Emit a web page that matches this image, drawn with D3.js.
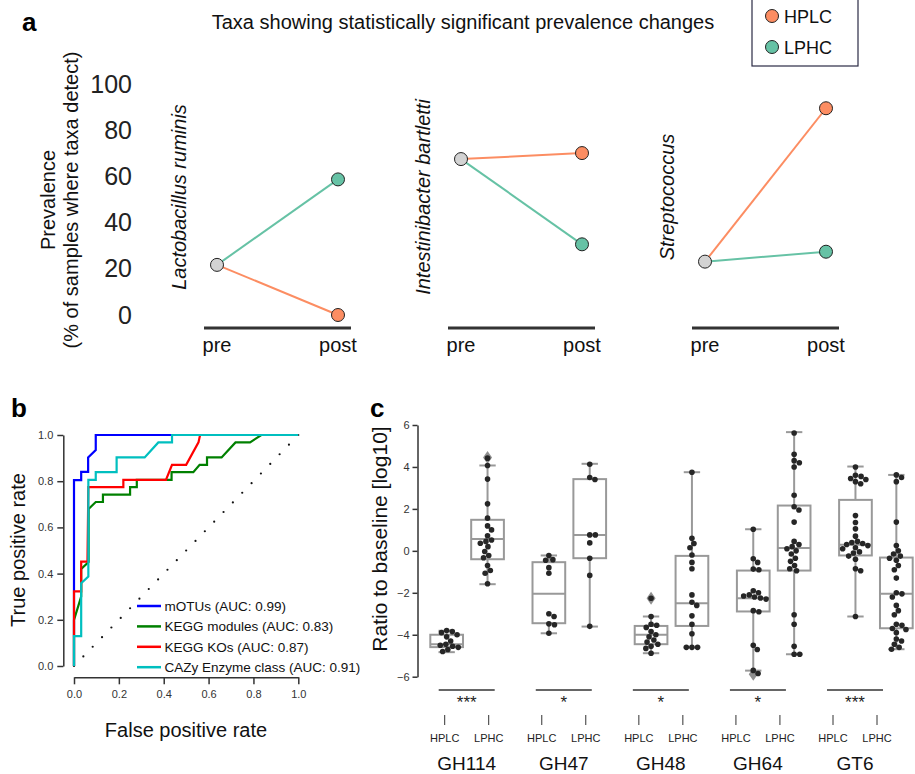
<!DOCTYPE html>
<html>
<head>
<meta charset="utf-8">
<script src="https://cdn.jsdelivr.net/npm/d3@7"></script>
<style>
  body { margin: 0; background: #fff; }
  svg { font-family: "Liberation Sans", Arial, Helvetica, sans-serif; }
</style>
</head>
<body>
<svg id="fig" width="915" height="774"></svg>
<script>
// ---------- data: panel a (prevalence, %) ----------
const taxa = ["Lactobacillus ruminis", "Intestinibacter bartletti", "Streptococcus"];
const stages = ["pre", "post"];
const prevPre = [21.7, 67.5, 23.1];
const prevPostHPLC = [0, 70.1, 89.5];
const prevPostLPHC = [58.7, 30.6, 27.4];
const prevTicks = [0, 20, 40, 60, 80, 100];

// ---------- data: panel b (ROC curves) ----------
const rocNames = ["mOTUs (AUC: 0.99)", "KEGG modules (AUC: 0.83)", "KEGG KOs (AUC: 0.87)", "CAZy Enzyme class (AUC: 0.91)"];
const fprMotus = [0, 0, 0.032, 0.032, 0.063, 0.063, 0.097, 0.097, 1];
const tprMotus = [0, 0.805, 0.805, 0.84, 0.84, 0.903, 0.935, 1, 1];
const fprModules = [0, 0, 0.032, 0.032, 0.065, 0.065, 0.097, 0.129, 0.129, 0.25, 0.25, 0.28, 0.28, 0.435, 0.435, 0.532, 0.56, 0.593, 0.593, 0.658, 0.72, 0.785, 0.835, 1];
const tprModules = [0, 0.2, 0.3, 0.42, 0.45, 0.68, 0.71, 0.71, 0.742, 0.742, 0.774, 0.774, 0.806, 0.806, 0.839, 0.839, 0.871, 0.871, 0.903, 0.903, 0.968, 0.968, 1, 1];
const fprKOs = [0, 0, 0.032, 0.032, 0.06, 0.064, 0.22, 0.22, 0.41, 0.437, 0.5, 0.555, 0.562, 1];
const tprKOs = [0, 0.323, 0.323, 0.452, 0.452, 0.774, 0.774, 0.806, 0.806, 0.871, 0.871, 0.968, 1, 1];
const fprCazy = [0, 0, 0.032, 0.032, 0.064, 0.064, 0.097, 0.097, 0.19, 0.19, 0.315, 0.376, 0.437, 0.437, 1];
const tprCazy = [0, 0.129, 0.129, 0.358, 0.387, 0.806, 0.806, 0.839, 0.839, 0.903, 0.903, 0.968, 0.968, 1, 1];
const rocTicks = [0, 0.2, 0.4, 0.6, 0.8, 1.0];

// ---------- data: panel c (ratio to baseline, log10) ----------
const groups = ["GH114", "GH47", "GH48", "GH64", "GT6"];
const hues = ["HPLC", "LPHC"];
const stars = ["***", "*", "*", "*", "***"];
// [lower whisker, q1, median, q3, upper whisker]
const hplcBox = [[-4.83, -4.59, -4.45, -4.0, -3.81], [-3.93, -3.45, -2.05, -0.54, -0.22], [-4.88, -4.45, -4.0, -3.58, -3.13], [-5.71, -2.89, -2.26, -0.94, 1.03], [-3.13, -0.22, 0.29, 2.43, 4.02]];
const lphcBox = [[-1.59, -0.4, 0.56, 1.48, 4.07], [-3.61, -0.35, 0.76, 3.42, 4.15], [-4.6, -3.58, -2.5, -0.24, 3.75], [-4.93, -0.94, 0.13, 2.16, 5.66], [-4.69, -3.69, -2.05, -0.32, 3.62]];
const hplcOutliers = [[], [], [-2.26], [-5.88], []];
const lphcOutliers = [[4.45], [], [], [], []];
const hplcPoints = [
  [-3.8, -3.85, -3.9, -4.0, -4.1, -4.3, -4.45, -4.5, -4.55, -4.6, -4.7, -4.8],
  [-0.22, -0.42, -0.45, -0.8, -1.07, -3.0, -3.13, -3.48, -3.52, -3.93],
  [-2.26, -3.13, -3.5, -3.55, -3.65, -3.85, -4.0, -4.1, -4.25, -4.35, -4.45, -4.55, -4.65, -4.88],
  [1.03, -0.38, -0.55, -0.87, -0.9, -1.9, -2.0, -2.1, -2.15, -2.2, -2.25, -2.3, -2.85, -2.9, -4.5, -4.7, -5.7, -5.85],
  [4.0, 3.6, 3.55, 3.45, 3.4, 3.3, 3.2, 1.68, 1.35, 1.05, 0.7, 0.45, 0.4, 0.35, 0.3, 0.25, 0.15, 0.1, -0.05, -0.1, -0.25, -0.4, -0.85, -0.95, -3.13]
];
const lphcPoints = [
  [4.42, 4.07, 3.42, 2.24, 1.56, 1.19, 1.0, 0.72, 0.52, 0.45, 0.36, 0.2, -0.03, -0.22, -0.33, -0.7, -0.94, -1.07, -1.57],
  [4.13, 3.5, 3.4, 0.76, 0.76, 0.38, -0.35, -1.17, -3.6],
  [3.75, 0.6, 0.35, 0.15, -0.2, -0.55, -0.85, -2.1, -2.45, -2.6, -3.1, -3.5, -3.95, -4.6, -4.6, -4.6],
  [5.62, 4.6, 4.3, 4.2, 4.0, 2.65, 2.1, 1.95, 1.37, 0.45, 0.3, 0.2, 0.1, 0.0, -0.15, -0.35, -0.5, -0.7, -0.85, -0.95, -3.05, -3.5, -4.55, -4.93, -4.93],
  [3.62, 3.5, 3.3, 1.37, 0.25, 0.0, -0.15, -0.25, -0.35, -0.45, -0.7, -0.9, -1.3, -2.0, -2.05, -2.2, -2.6, -2.85, -3.05, -3.5, -3.55, -3.7, -3.75, -3.9, -4.2, -4.3, -4.45, -4.6, -4.69]
];
const ratioTicks = [-6, -4, -2, 0, 2, 4, 6];

const FONT = "Liberation Sans, Arial, Helvetica, sans-serif";
const orange = "#fc8d62", teal = "#66c2a5", grey = "#d3d3d3";
const svg = d3.select("#fig");

// panel letters
[["a", 22, 31], ["b", 11, 417], ["c", 370, 417]].forEach(([t, x, y]) => {
  svg.append("text").attr("x", x).attr("y", y).attr("font-size", 26)
    .attr("font-weight", "bold").text(t);
});

// ================= panel a =================
const yA = d3.scaleLinear().domain([0, 100]).range([315, 84]);
const panelX = d3.scaleBand().domain(taxa).range([150, 882]);
const stageX = d3.scalePoint().domain(stages).range([67, 188]);

svg.append("text").attr("x", 463).attr("y", 29).attr("text-anchor", "middle")
  .attr("font-size", 20).attr("fill", "#111")
  .text("Taxa showing statistically significant prevalence changes");

const axA = svg.append("g").attr("transform", "translate(135,0)")
  .call(d3.axisLeft(yA).tickValues(prevTicks).tickSize(0).tickPadding(3));
axA.select(".domain").remove();
axA.attr("font-family", FONT).attr("font-size", 25);
axA.selectAll("text").attr("fill", "#222");

const ylabA = svg.append("text").attr("transform", "translate(55,200) rotate(-90)")
  .attr("text-anchor", "middle").attr("font-size", 20).attr("fill", "#111");
ylabA.append("tspan").attr("x", 0).attr("y", 0).text("Prevalence");
ylabA.append("tspan").attr("x", 0).attr("y", 23).text("(% of samples where taxa detect)");

taxa.forEach((t, i) => {
  const g = svg.append("g").attr("transform", `translate(${panelX(t)},0)`);
  g.append("line")
    .attr("x1", stageX("pre") - 13).attr("x2", stageX("post") + 13)
    .attr("y1", 328).attr("y2", 328).attr("stroke", "#333").attr("stroke-width", 3);
  stages.forEach(s => {
    g.append("text").attr("x", stageX(s)).attr("y", 352).attr("text-anchor", "middle")
      .attr("font-size", 20).attr("fill", "#111").text(s);
  });
  g.append("text").attr("transform", "translate(36,197) rotate(-90)")
    .attr("text-anchor", "middle").attr("font-size", 20).attr("font-style", "italic")
    .attr("fill", "#111").text(t);

  const x0 = stageX("pre"), x1 = stageX("post");
  g.append("line").attr("x1", x0).attr("y1", yA(prevPre[i]))
    .attr("x2", x1).attr("y2", yA(prevPostHPLC[i])).attr("stroke", orange).attr("stroke-width", 2);
  g.append("line").attr("x1", x0).attr("y1", yA(prevPre[i]))
    .attr("x2", x1).attr("y2", yA(prevPostLPHC[i])).attr("stroke", teal).attr("stroke-width", 2);
  [[x1, prevPostHPLC[i], orange], [x1, prevPostLPHC[i], teal], [x0, prevPre[i], grey]].forEach(([cx, v, c]) => {
    g.append("circle").attr("cx", cx).attr("cy", yA(v)).attr("r", 6.5)
      .attr("fill", c).attr("stroke", "#222").attr("stroke-width", 1);
  });
});

// legend a
const legA = svg.append("g");
legA.append("rect").attr("x", 752).attr("y", -2).attr("width", 106).attr("height", 68)
  .attr("fill", "#fff").attr("stroke", "#2b2b45").attr("stroke-width", 1.2);
[["HPLC", orange, 16], ["LPHC", teal, 47]].forEach(([lab, c, y]) => {
  legA.append("circle").attr("cx", 772).attr("cy", y).attr("r", 6.5)
    .attr("fill", c).attr("stroke", "#222").attr("stroke-width", 1);
  legA.append("text").attr("x", 784).attr("y", y + 6.5).attr("font-size", 18)
    .attr("fill", "#111").text(lab);
});

// ================= panel b =================
const xB = d3.scaleLinear().domain([0, 1]).range([74, 298.3]);
const yB = d3.scaleLinear().domain([0, 1]).range([666, 435]);

const axBy = svg.append("g").attr("transform", "translate(63.3,0)")
  .call(d3.axisLeft(yB).tickValues(rocTicks).tickFormat(d3.format(".1f")).tickSize(6).tickSizeOuter(0).tickPadding(4));
const axBx = svg.append("g").attr("transform", "translate(0,677.3)")
  .call(d3.axisBottom(xB).tickValues(rocTicks).tickFormat(d3.format(".1f")).tickSize(7).tickSizeOuter(0).tickPadding(6));
[axBy, axBx].forEach(a => {
  a.attr("font-family", FONT).attr("font-size", 11);
  a.selectAll("path,line").attr("stroke", "#333").attr("stroke-width", 1.5);
  a.selectAll("text").attr("fill", "#333");
});

// chance line (dotted diagonal)
svg.append("g").selectAll("circle").data(d3.range(0, 25).map(k => k / 24)).join("circle")
  .attr("cx", d => xB(d)).attr("cy", d => yB(d)).attr("r", 1.1).attr("fill", "#111");

const rocSeries = [
  { name: rocNames[0], fpr: fprMotus, tpr: tprMotus, color: "#0000ff" },
  { name: rocNames[1], fpr: fprModules, tpr: tprModules, color: "#008000" },
  { name: rocNames[2], fpr: fprKOs, tpr: tprKOs, color: "#ff0000" },
  { name: rocNames[3], fpr: fprCazy, tpr: tprCazy, color: "#00bfbf" }
];
const rocLine = d3.line().x(d => xB(d[0])).y(d => yB(d[1]));
rocSeries.forEach(s => {
  svg.append("path").datum(s.fpr.map((f, k) => [f, s.tpr[k]]))
    .attr("d", rocLine).attr("fill", "none").attr("stroke", s.color)
    .attr("stroke-width", 2.2).attr("stroke-linejoin", "miter");
});

rocSeries.forEach((s, k) => {
  const y = 606 + k * 20.4;
  svg.append("line").attr("x1", 137).attr("x2", 161).attr("y1", y).attr("y2", y)
    .attr("stroke", s.color).attr("stroke-width", 2.5);
  svg.append("text").attr("x", 164.5).attr("y", y).attr("dy", "0.35em")
    .attr("font-size", 13.5).attr("fill", "#111").text(s.name);
});

svg.append("text").attr("transform", "translate(25,550) rotate(-90)")
  .attr("text-anchor", "middle").attr("font-size", 20).attr("fill", "#111").text("True positive rate");
svg.append("text").attr("x", 186).attr("y", 737).attr("text-anchor", "middle")
  .attr("font-size", 20).attr("fill", "#111").text("False positive rate");

// ================= panel c =================
const yC = d3.scaleLinear().domain([-6, 6]).range([676.7, 425]);
const xC = d3.scaleBand().domain(groups).range([416, 927]);
const bw = xC.bandwidth();
const hueOff = d3.scalePoint().domain(hues).range([-0.2 * bw, 0.2 * bw]);
const boxW = 0.32 * bw;

const axC = svg.append("g").attr("transform", "translate(417.5,0)")
  .call(d3.axisLeft(yC).tickValues(ratioTicks).tickSize(5).tickSizeOuter(0).tickPadding(3));
axC.attr("font-family", FONT).attr("font-size", 11);
axC.selectAll("path,line").attr("stroke", "#333").attr("stroke-width", 1.5);
axC.selectAll("text").attr("fill", "#333");

svg.append("text").attr("transform", "translate(387,539) rotate(-90)")
  .attr("text-anchor", "middle").attr("font-size", 21).attr("fill", "#111")
  .text("Ratio to baseline [log10]");

function swarm(vals, r) {
  const placed = [];
  vals.map(v => ({ v, y: yC(v) })).sort((a, b) => a.y - b.y).forEach(p => {
    let off = 0;
    for (let k = 0; k < 400; k++) {
      const o = (k % 2 ? 1 : -1) * Math.ceil(k / 2) * 0.4;
      if (placed.every(q => (q.x - o) ** 2 + (q.y - p.y) ** 2 >= (2 * r) ** 2)) { off = o; break; }
    }
    p.x = off;
    placed.push(p);
  });
  return placed;
}

const boxColor = "#999";
const diamond = "M0,-6.5L4.5,0L0,6.5L-4.5,0Z";
groups.forEach((grp, gi) => {
  hues.forEach(h => {
    const st = (h === "HPLC" ? hplcBox : lphcBox)[gi];
    const pts = (h === "HPLC" ? hplcPoints : lphcPoints)[gi];
    const outl = (h === "HPLC" ? hplcOutliers : lphcOutliers)[gi];
    const cx = xC(grp) + bw / 2 + hueOff(h);
    const g = svg.append("g");
    // whiskers + caps
    [[st[0], st[1]], [st[4], st[3]]].forEach(([w, q]) => {
      g.append("line").attr("x1", cx).attr("x2", cx).attr("y1", yC(w)).attr("y2", yC(q))
        .attr("stroke", boxColor).attr("stroke-width", 2);
      g.append("line").attr("x1", cx - boxW / 4).attr("x2", cx + boxW / 4).attr("y1", yC(w)).attr("y2", yC(w))
        .attr("stroke", boxColor).attr("stroke-width", 2);
    });
    g.append("rect").attr("x", cx - boxW / 2).attr("y", yC(st[3]))
      .attr("width", boxW).attr("height", yC(st[1]) - yC(st[3]))
      .attr("fill", "#fff").attr("stroke", boxColor).attr("stroke-width", 2);
    g.append("line").attr("x1", cx - boxW / 2).attr("x2", cx + boxW / 2)
      .attr("y1", yC(st[2])).attr("y2", yC(st[2])).attr("stroke", boxColor).attr("stroke-width", 2);
    outl.forEach(v => {
      g.append("path").attr("d", diamond).attr("transform", `translate(${cx},${yC(v)})`)
        .attr("fill", "#8f8f8f");
    });
    g.selectAll("circle.pt").data(swarm(pts, 2.8)).join("circle").attr("class", "pt")
      .attr("cx", d => cx + d.x).attr("cy", d => d.y).attr("r", 2.8).attr("fill", "#262626");
  });
});

// significance annotations and group labels
const xAnn = d3.scalePoint().domain(groups).range([466.7, 855]);
groups.forEach((grp, gi) => {
  const c = xAnn(grp);
  svg.append("line").attr("x1", c - 28).attr("x2", c + 28).attr("y1", 690).attr("y2", 690)
    .attr("stroke", "#333").attr("stroke-width", 1.5);
  svg.append("text").attr("x", c).attr("y", 708).attr("text-anchor", "middle")
    .attr("font-size", 17).attr("fill", "#222").text(stars[gi]);
  hues.forEach((h, hi) => {
    const tx = c + (hi === 0 ? -22 : 22);
    svg.append("line").attr("x1", tx).attr("x2", tx).attr("y1", 715).attr("y2", 725)
      .attr("stroke", "#333").attr("stroke-width", 1);
    svg.append("text").attr("x", tx).attr("y", 738).attr("dy", "0.35em").attr("text-anchor", "middle")
      .attr("font-size", 11).attr("fill", "#222").text(h);
  });
  svg.append("text").attr("x", c).attr("y", 763).attr("dy", "0.35em").attr("text-anchor", "middle")
    .attr("font-size", 19).attr("fill", "#111").text(grp);
});
</script>
</body>
</html>
